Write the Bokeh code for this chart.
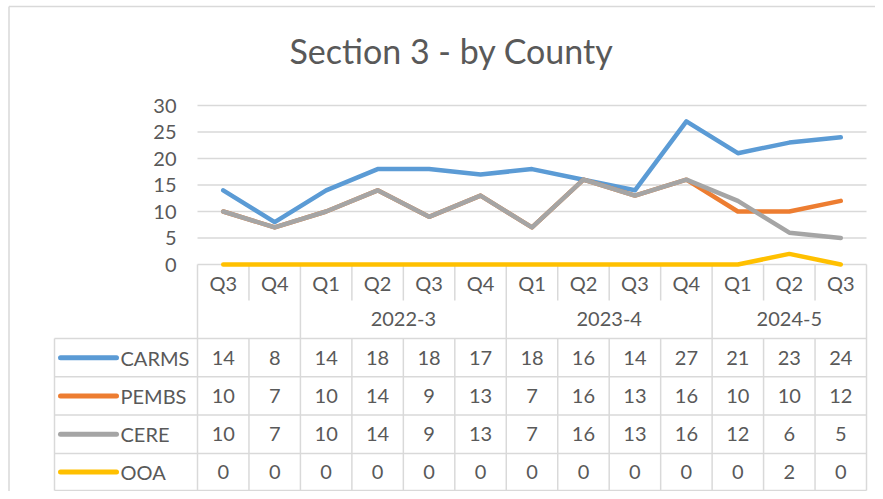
from bokeh.plotting import figure
from bokeh.models import Range1d
from bokeh.core.properties import value
from bokeh.embed import file_html
from bokeh.resources import INLINE

# ---- data ----
title_text = "Section 3 - by County"
quarters = ["Q3", "Q4", "Q1", "Q2", "Q3", "Q4", "Q1", "Q2", "Q3", "Q4", "Q1", "Q2", "Q3"]
groups = ["", "2022-3", "2023-4", "2024-5"]
group_sizes = [2, 4, 4, 3]
series_names = ["CARMS", "PEMBS", "CERE", "OOA"]
carms = [14, 8, 14, 18, 18, 17, 18, 16, 14, 27, 21, 23, 24]
pembs = [10, 7, 10, 14, 9, 13, 7, 16, 13, 16, 10, 10, 12]
cere = [10, 7, 10, 14, 9, 13, 7, 16, 13, 16, 12, 6, 5]
ooa = [0, 0, 0, 0, 0, 0, 0, 0, 0, 0, 0, 2, 0]
y_ticks = [0, 5, 10, 15, 20, 25, 30]

# ---- styles ----
colors = ["#5B9BD5", "#ED7D31", "#A5A5A5", "#FFC000"]
grid_c = "#D9D9D9"
txt_c = "#595959"
FONT = value("Lato")

W, H = 875, 491
plot_left, plot_right = 197.0, 866.0
ncol = len(quarters)
col_w = (plot_right - plot_left) / ncol
y0_px, y30_px = 264.0, 105.0
unit = (y0_px - y30_px) / 30.0

def X(px):
    return (px - plot_left) / col_w

def Y(py):
    return (y0_px - py) / unit

p = figure(width=W, height=H, output_backend="svg", toolbar_location=None,
           x_range=Range1d(X(0), X(W)), y_range=Range1d(Y(H), Y(0)),
           x_axis_type=None, y_axis_type=None, min_border=0)
p.outline_line_color = None
p.grid.visible = False
p.background_fill_color = "white"
p.border_fill_color = "white"

# outer chart border (left & top)
p.segment(x0=[X(8.5), X(8.5)], y0=[Y(H), Y(6)], x1=[X(8.5), X(W)], y1=[Y(6), Y(6)],
          line_color=grid_c, line_width=1.5)

# title
p.text(x=[X(451)], y=[Y(50)], text=[title_text], text_font=FONT, text_font_size="34px",
       text_color=txt_c, text_align="center", text_baseline="middle")

# gridlines
p.segment(x0=[0] * len(y_ticks), x1=[ncol] * len(y_ticks), y0=y_ticks, y1=y_ticks,
          line_color=grid_c, line_width=1.3)
p.text(x=[X(176)] * len(y_ticks), y=y_ticks, text=[str(t) for t in y_ticks],
       text_font=FONT, text_font_size="20px", text_color=txt_c,
       text_align="right", text_baseline="middle")

# ---- data table grid ----
row_q_bot = 300.0
row_g_bot = 338.0
data_row_edges = [338.0, 376.3, 414.6, 452.9, 490.0]
legend_left = 54.0
group_edges = [0]
for s in group_sizes:
    group_edges.append(group_edges[-1] + s)

vx0, vy0, vx1, vy1 = [], [], [], []
for k in range(ncol + 1):
    if k in group_edges:
        vx0.append(k); vx1.append(k); vy0.append(Y(y0_px)); vy1.append(Y(data_row_edges[-1]))
    else:
        vx0 += [k, k]; vx1 += [k, k]
        vy0 += [Y(y0_px), Y(row_g_bot)]
        vy1 += [Y(row_q_bot), Y(data_row_edges[-1])]
# legend column left edge
vx0.append(X(legend_left)); vx1.append(X(legend_left))
vy0.append(Y(row_g_bot)); vy1.append(Y(data_row_edges[-1]))
p.segment(x0=vx0, y0=vy0, x1=vx1, y1=vy1, line_color=grid_c, line_width=1.5)
hy = [Y(e) for e in data_row_edges]
p.segment(x0=[X(legend_left)] * len(hy), x1=[ncol] * len(hy), y0=hy, y1=hy,
          line_color=grid_c, line_width=1.5)

# quarter labels
xc = [i + 0.5 for i in range(ncol)]
p.text(x=xc, y=[Y(282.5)] * ncol, text=quarters, text_font=FONT, text_font_size="20px",
       text_color=txt_c, text_align="center", text_baseline="middle")
# group labels
gx = [(group_edges[i] + group_edges[i + 1]) / 2 for i in range(len(groups))]
p.text(x=gx, y=[Y(318)] * len(groups), text=groups, text_font=FONT, text_font_size="20px",
       text_color=txt_c, text_align="center", text_baseline="middle")

# ---- lines ----
all_series = [carms, pembs, cere, ooa]
for vals, c in zip(all_series, colors):
    p.line(x=xc, y=vals, line_color=c, line_width=4.5, line_join="round", line_cap="round")

# ---- table rows ----
for r, (name, vals, c) in enumerate(zip(series_names, all_series, colors)):
    ymid = Y((data_row_edges[r] + data_row_edges[r + 1]) / 2)
    p.line(x=[X(60), X(116)], y=[ymid, ymid], line_color=c, line_width=5, line_cap="round")
    p.text(x=[X(120)], y=[ymid], text=[name], text_font=FONT, text_font_size="20px",
           text_color=txt_c, text_align="left", text_baseline="middle")
    p.text(x=xc, y=[ymid] * ncol, text=[str(v) for v in vals], text_font=FONT,
           text_font_size="20px", text_color=txt_c, text_align="center", text_baseline="middle")

open("out.html", "w").write(file_html(p, INLINE))
